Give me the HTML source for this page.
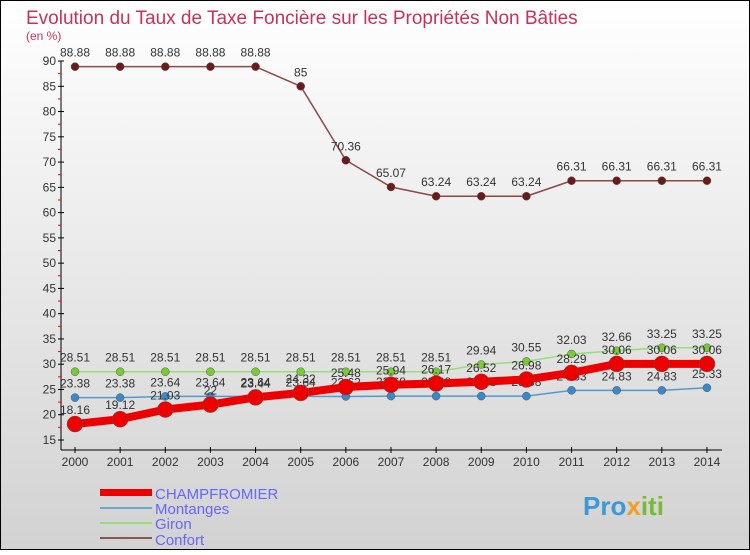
<!DOCTYPE html>
<html><head><meta charset="utf-8"><style>
html,body{margin:0;padding:0;}
body{width:750px;height:550px;overflow:hidden;font-family:"Liberation Sans",sans-serif;}
svg text{font-family:"Liberation Sans",sans-serif;}
</style></head><body>
<svg id="chart" width="750" height="550" xmlns="http://www.w3.org/2000/svg">
<defs><linearGradient id="bg" x1="0" y1="0" x2="0" y2="1"><stop offset="0" stop-color="#ffffff"/><stop offset="1" stop-color="#d2d2d2"/></linearGradient></defs>
<rect x="0.5" y="0.5" width="749" height="549" fill="url(#bg)" stroke="#000"/>
<text x="26" y="24" font-size="19" fill="#c8325a">Evolution du Taux de Taxe Foncière sur les Propriétés Non Bâties</text>
<text x="26" y="40" font-size="12" fill="#c8325a">(en %)</text>
<g id="axes"></g><g id="series"></g>
<g>
<rect x="100" y="489" width="52" height="7" fill="#ee0000"/>
<line x1="100" y1="508" x2="152" y2="508" stroke="#6fa6cc" stroke-width="2"/>
<line x1="100" y1="523" x2="152" y2="523" stroke="#99dd77" stroke-width="2"/>
<line x1="100" y1="538" x2="152" y2="538" stroke="#8a5555" stroke-width="2"/>
<text x="155" y="499" font-size="15" fill="#6666ff">CHAMPFROMIER</text>
<text x="155" y="514" font-size="15" fill="#6666ff">Montanges</text>
<text x="155" y="529" font-size="15" fill="#6666ff">Giron</text>
<text x="155" y="545" font-size="15" fill="#6666ff">Confort</text>
</g>
<text x="583" y="515" font-size="26" font-weight="bold" fill="#3a9ad9">Pro<tspan fill="#f0a020">x</tspan><tspan fill="#77bb33">iti</tspan></text>
</svg>
<script>
const years=[2000,2001,2002,2003,2004,2005,2006,2007,2008,2009,2010,2011,2012,2013,2014];
const champfromier=[18.16,19.12,21.03,22,23.44,24.32,25.48,25.94,26.17,26.52,26.98,28.29,30.06,30.06,30.06];
const montanges=[23.38,23.38,23.64,23.64,23.64,23.64,23.62,23.68,23.68,23.68,23.68,24.83,24.83,24.83,25.33];
const giron=[28.51,28.51,28.51,28.51,28.51,28.51,28.51,28.51,28.51,29.94,30.55,32.03,32.66,33.25,33.25];
const confort=[88.88,88.88,88.88,88.88,88.88,85,70.36,65.07,63.24,63.24,63.24,66.31,66.31,66.31,66.31];
const yTicks=[15,20,25,30,35,40,45,50,55,60,65,70,75,80,85,90];
const NS="http://www.w3.org/2000/svg";
const X=i=>75+i*45.14;
const Y=v=>440-(v-15)*5.053;
function mk(tag,attrs,parent){const e=document.createElementNS(NS,tag);for(const k in attrs)e.setAttribute(k,attrs[k]);parent.appendChild(e);return e;}
const axes=document.getElementById('axes');
let a=mk('line',{x1:61,y1:Y(90),x2:61,y2:450,stroke:'#000'},axes);


a=mk('line',{x1:61,y1:450,x2:722,y2:450,stroke:'#000'},axes);


yTicks.forEach((t,i)=>{
  mk('line',{x1:58,y1:Y(t),x2:64,y2:Y(t),stroke:'#000'},axes);
  if(i<yTicks.length-1)mk('line',{x1:58,y1:Y(t+2.5),x2:61,y2:Y(t+2.5),stroke:'#ff0000'},axes);
  const tx=mk('text',{x:56,y:Y(t)+4,'font-size':12,'text-anchor':'end',fill:'#333'},axes);
  tx.textContent=t;
  
  
});
years.forEach((yr,i)=>{
  mk('line',{x1:X(i),y1:447,x2:X(i),y2:453,stroke:'#000'},axes);
  const tx=mk('text',{x:X(i),y:466,'font-size':12,'text-anchor':'middle',fill:'#333'},axes);
  tx.textContent=yr;
  
  
});
const sg=document.getElementById('series');
function series(vals,name,color,w,r,fill){
  const g=mk('g',{},sg);
  
  
  const p=mk('polyline',{points:vals.map((v,i)=>X(i)+','+Y(v)).join(' '),fill:'none',stroke:color,'stroke-width':w,'stroke-linejoin':'round'},g);
  
  
  vals.forEach((v,i)=>{
    const c=mk('circle',{cx:X(i),cy:Y(v),r:r,fill:fill,stroke:'#555','stroke-width':0.5},g);
    
    
    const t=mk('text',{x:X(i),y:Y(v)-10,'font-size':12,'text-anchor':'middle',fill:'#333'},g);
    t.textContent=String(v);
    
    
  });
}
series(confort,'confort','#8a4848',1.5,4,'#6b1a1a');
series(giron,'giron','#99dd77',1.5,4,'#77cc33');
series(montanges,'montanges','#5599cc',1.5,4,'#3a88cc');
series(champfromier,'champfromier','#ee0000',8,8,'#ee0000');
</script>
</body></html>
